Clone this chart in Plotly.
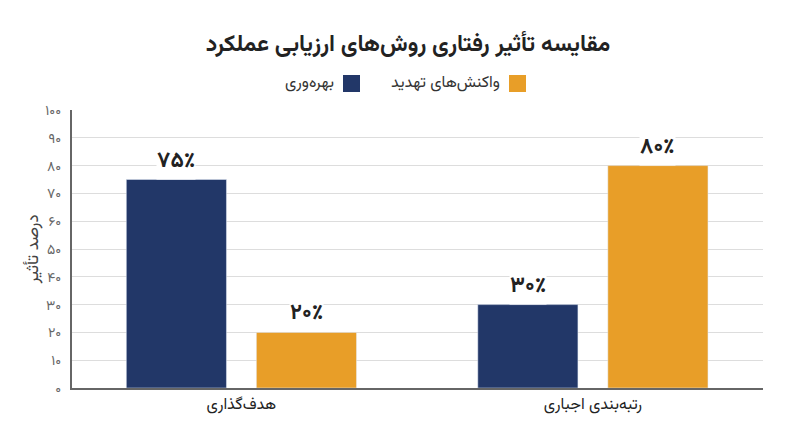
import plotly.graph_objects as go

# داده‌ها
categories = ['هدف‌گذاری', 'رتبه‌بندی اجباری']
productivity = [75, 30]
threat = [20, 80]
series_names = ['بهره‌وری', 'واکنش‌های تهدید']
tick_vals = [0, 10, 20, 30, 40, 50, 60, 70, 80, 90, 100]
tick_text = ['۰', '۱۰', '۲۰', '۳۰', '۴۰', '۵۰', '۶۰', '۷۰', '۸۰', '۹۰', '۱۰۰']

NAVY = '#223768'
ORANGE = '#E89E28'
FONT = 'Vazirmatn, DejaVu Sans, sans-serif'

fa_digits = str.maketrans('0123456789', '۰۱۲۳۴۵۶۷۸۹')


def fa_pct(v):
    return str(v).translate(fa_digits) + '٪'


fig = go.Figure()
fig.add_trace(go.Bar(x=categories, y=productivity, name=series_names[0],
                     marker_color=NAVY, showlegend=False))
fig.add_trace(go.Bar(x=categories, y=threat, name=series_names[1],
                     marker_color=ORANGE, showlegend=False))

# برچسب مقادیر با پس‌زمینه سفید
offset = 0.185
for i, cat in enumerate(categories):
    for vals, dx in ((productivity, -offset), (threat, offset)):
        fig.add_annotation(x=i + dx, y=vals[i], xref='x', yref='y',
                           text='<b>' + fa_pct(vals[i]) + '</b>',
                           showarrow=False, yanchor='bottom', yshift=0,
                           bgcolor='white', borderpad=0,
                           font=dict(family=FONT, size=22, color='#222'))

# راهنمای راست‌به‌چپ (پیکسل‌ها نسبت به ناحیه رسم 72..763 و 110..388)
legend_items = [(series_names[0], NAVY, 360), (series_names[1], ORANGE, 526)]
for name, color, right in legend_items:
    fig.add_shape(type='rect', xref='paper', yref='paper',
                  x0=(right - 17 - 72) / 691, x1=(right - 72) / 691,
                  y0=(388 - 92) / 278, y1=(388 - 75) / 278,
                  fillcolor=color, line_width=0)
    fig.add_annotation(xref='paper', yref='paper',
                       x=(right - 24 - 72) / 691, y=(388 - 83.5) / 278,
                       xanchor='right', yanchor='middle', showarrow=False,
                       text=name, font=dict(family=FONT, size=16, color='#333'))

# صفحه ۸ پیکسل حاشیه دارد، پس حاشیه‌ها جبران می‌شوند
fig.update_layout(
    width=800, height=447,
    margin=dict(l=64, r=45, t=102, b=67),
    paper_bgcolor='white', plot_bgcolor='white',
    title=dict(text='<b>مقایسه تأثیر رفتاری روش‌های ارزیابی عملکرد</b>',
               x=0.5, xanchor='center', y=0.922, yanchor='middle',
               font=dict(family=FONT, size=23, color='#222')),
    barmode='group', bargap=0.26, bargroupgap=0.23,
    font=dict(family=FONT),
)
fig.update_xaxes(range=[-0.482, 1.484], showline=True, linecolor='#666',
                 linewidth=2, ticks='', showgrid=False,
                 tickfont=dict(family=FONT, size=16, color='#222'))
fig.update_yaxes(range=[0, 100], tickvals=tick_vals, ticktext=tick_text,
                 showline=True, linecolor='#666', linewidth=2,
                 gridcolor='#dddddd', zeroline=False, ticks='',
                 ticklabelstandoff=6,
                 tickfont=dict(family=FONT, size=14, color='#666'),
                 title=dict(text='درصد تأثیر', standoff=2,
                            font=dict(family=FONT, size=17, color='#444')))

fig.write_html('out.html')
